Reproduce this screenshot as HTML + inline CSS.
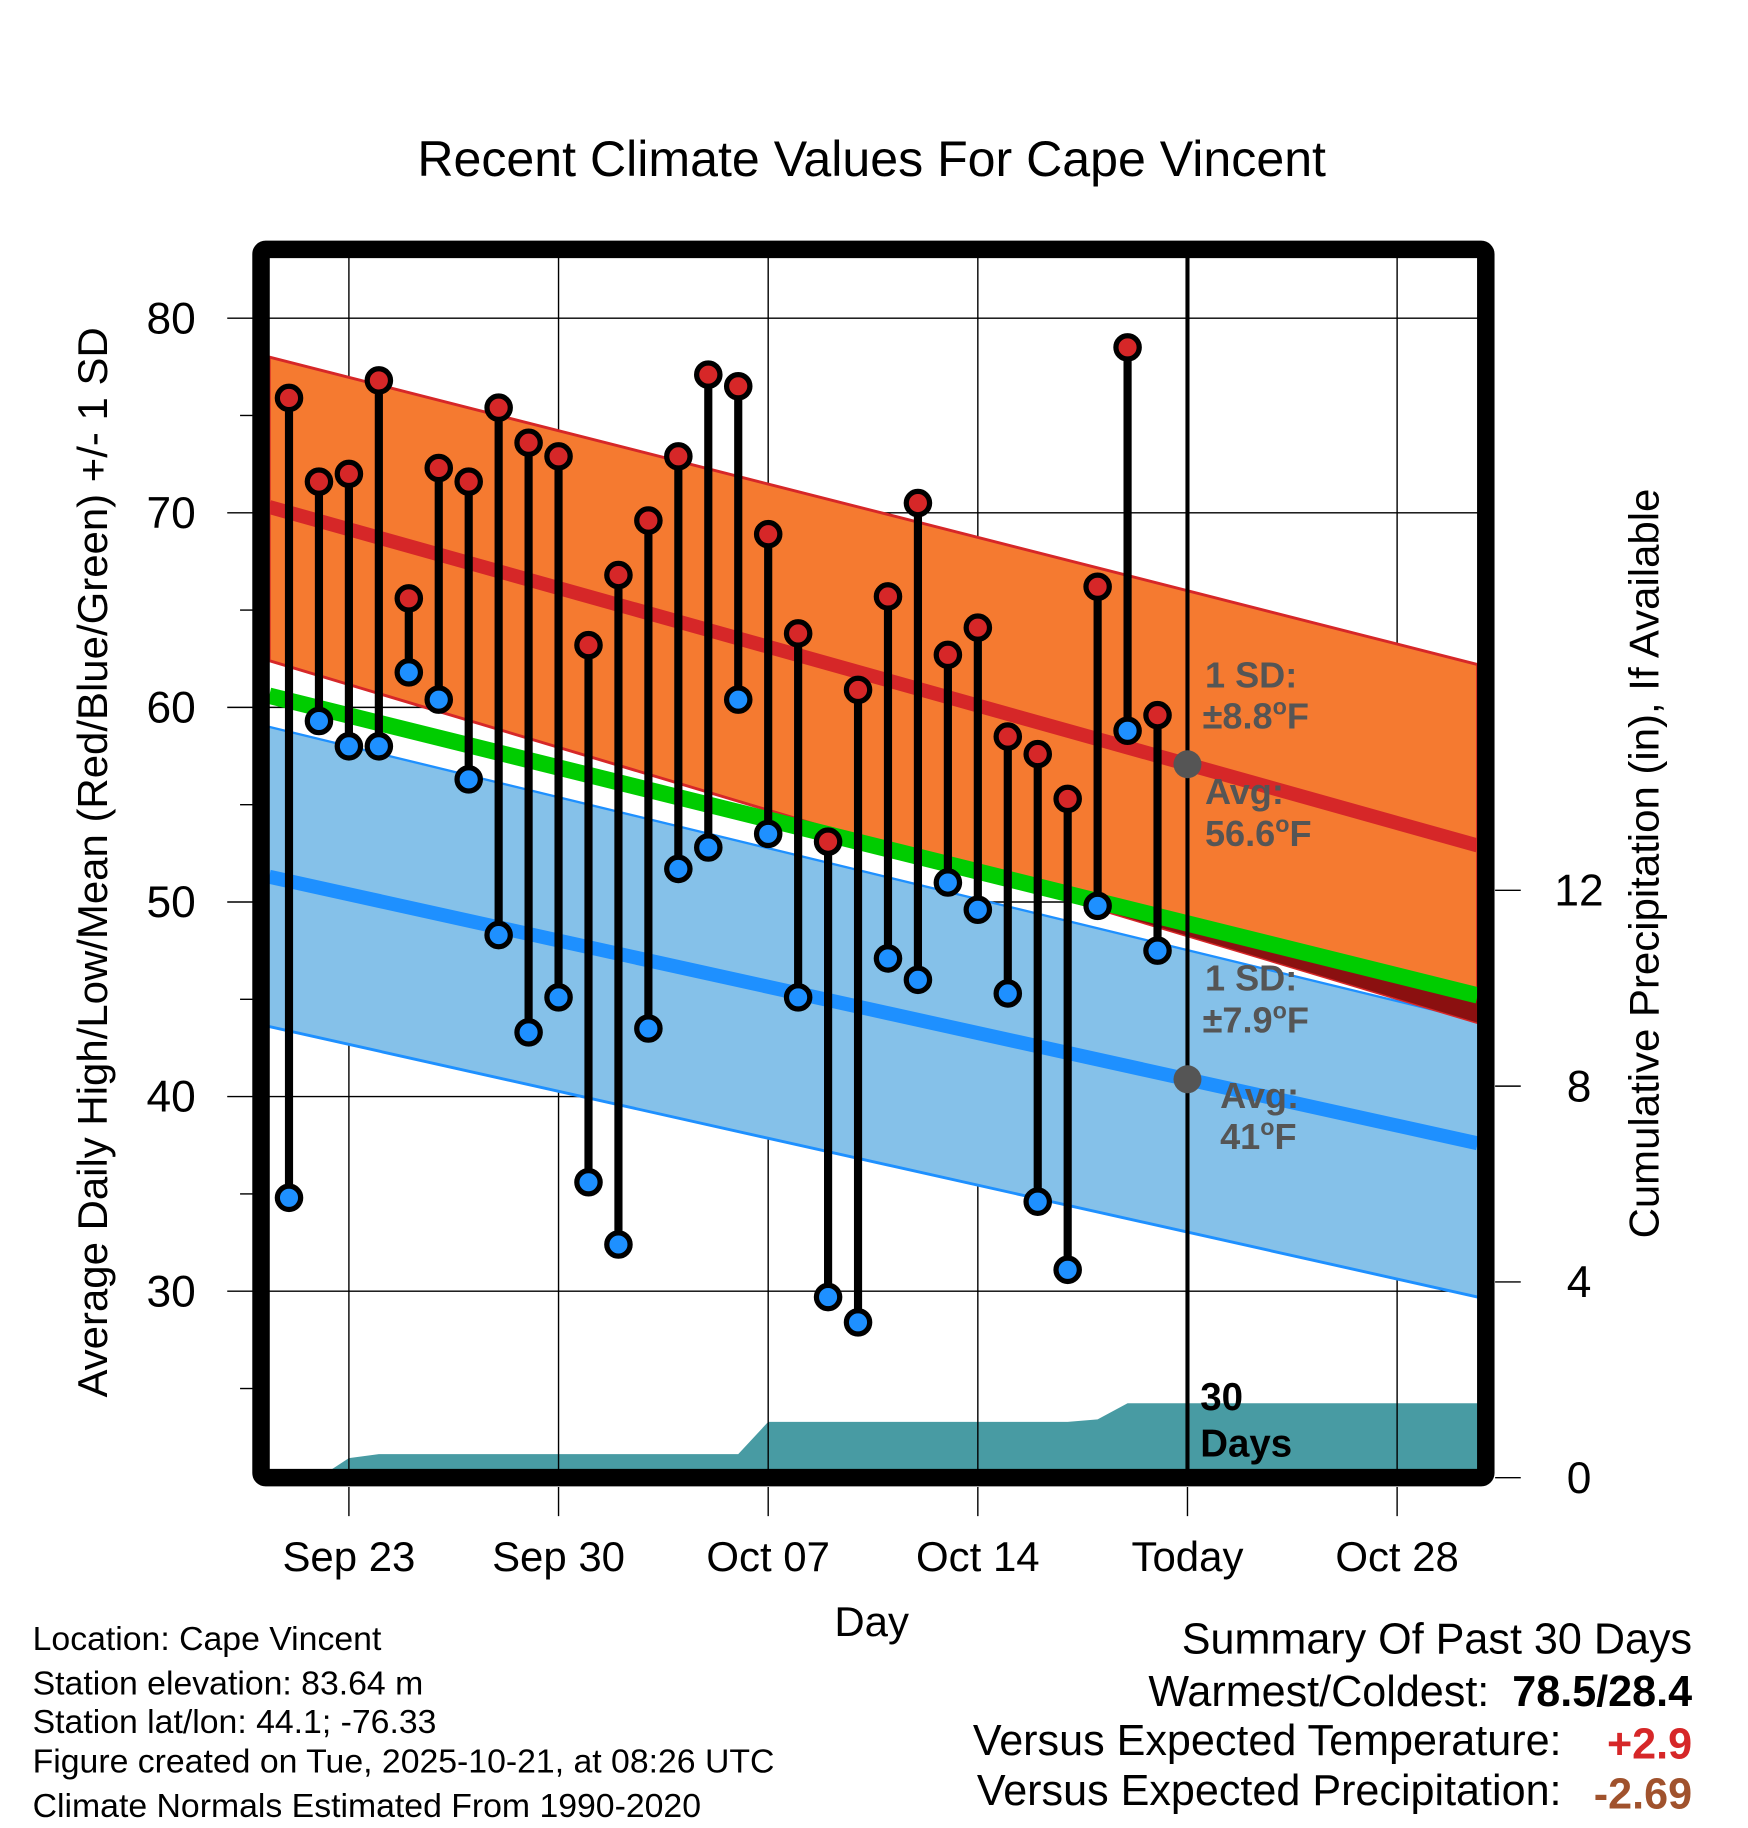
<!DOCTYPE html>
<html><head><meta charset="utf-8"><style>html,body{margin:0;padding:0;background:#fff}svg{display:block}text{font-family:"Liberation Sans",sans-serif}</style></head>
<body>
<svg id="chart" width="1748" height="1828" viewBox="0 0 1500 1568.6" xmlns="http://www.w3.org/2000/svg">
<text x="748" y="151" font-size="43" text-anchor="middle">Recent Climate Values For Cape Vincent</text>
<g id="plot"></g>
<text x="748" y="1404" font-size="36" text-anchor="middle">Day</text>
<text transform="translate(92,740) rotate(-90)" font-size="36" text-anchor="middle">Average Daily High/Low/Mean (Red/Blue/Green) +/- 1 SD</text>
<text transform="translate(1423,741) rotate(-90)" font-size="36" text-anchor="middle">Cumulative Precipitation (in), If Available</text>
<g font-size="29">
<text x="28" y="1416">Location: Cape Vincent</text>
<text x="28" y="1454">Station elevation: 83.64 m</text>
<text x="28" y="1487">Station lat/lon: 44.1; -76.33</text>
<text x="28" y="1521">Figure created on Tue, 2025-10-21, at 08:26 UTC</text>
<text x="28" y="1559">Climate Normals Estimated From 1990-2020</text>
</g>
<g font-size="37">
<text x="1452" y="1419" text-anchor="end">Summary Of Past 30 Days</text>
<text x="1278" y="1464" text-anchor="end">Warmest/Coldest:</text>
<text x="1452" y="1464" text-anchor="end" font-weight="bold">78.5/28.4</text>
<text x="1340" y="1506" text-anchor="end">Versus Expected Temperature:</text>
<text x="1452" y="1509" text-anchor="end" font-weight="bold" fill="#d62728">+2.9</text>
<text x="1340" y="1549" text-anchor="end">Versus Expected Precipitation:</text>
<text x="1452" y="1552" text-anchor="end" font-weight="bold" fill="#a0522d">-2.69</text>
</g>
</svg>
<script>
const highs=[75.9,71.6,72.0,76.8,65.6,72.3,71.6,75.4,73.6,72.9,63.2,66.8,69.6,72.9,77.1,76.5,68.9,63.8,53.1,60.9,65.7,70.5,62.7,64.1,58.5,57.6,55.3,66.2,78.5,59.6];
const lows=[34.8,59.3,58.0,58.0,61.8,60.4,56.3,48.3,43.3,45.1,35.6,32.4,43.5,51.7,52.8,60.4,53.5,45.1,29.7,28.4,47.1,46.0,51.0,49.6,45.3,34.6,31.1,49.8,58.8,47.5];
const precip=[0,0,0.4,0.48,0.48,0.48,0.48,0.48,0.48,0.48,0.48,0.48,0.48,0.48,0.48,0.48,1.14,1.14,1.14,1.14,1.14,1.14,1.14,1.14,1.14,1.14,1.14,1.19,1.52,1.52];
const highAvg=[70.3,52.9], highUp=[78.0,62.2], highLo=[62.4,43.8];
const meanAvg=[60.6,45.2];
const lowAvg=[51.3,37.6], lowUp=[59.0,43.9], lowLo=[43.6,29.7];
const xTickLabels=["Sep 23","Sep 30","Oct 07","Oct 14","Today","Oct 28"];
const xTickDays=[2,9,16,23,30,37];
const yTicks=[30,40,50,60,70,80];
const pTicks=[0,4,8,12];
const todayDay=30;

const NS="http://www.w3.org/2000/svg";
const g=document.getElementById('plot');
const X0=231,X1=1268,Y0=221,Y1=1261;
const x=d=>248+d*25.7;
const y=v=>273+(80-v)*16.7;
const py=p=>1268-p*42;
const dL=(X0-248)/25.7, dR=(X1-248)/25.7;
function el(t,a,p){const e=document.createElementNS(NS,t);for(const k in a)e.setAttribute(k,a[k]);(p||g).appendChild(e);return e;}
function lineAt(arr,d){return arr[0]+(arr[1]-arr[0])*(d-dL)/(dR-dL);}
function band(lo,hi){return `${X0},${y(lo[0])} ${X1},${y(lo[1])} ${X1},${y(hi[1])} ${X0},${y(hi[0])}`;}

let defs=el('defs',{});
let cp=el('clipPath',{id:'pc'},defs);el('rect',{x:X0,y:Y0,width:X1-X0,height:Y1-Y0},cp);
let cg=el('clipPath',{id:'belowGreen'},defs);
el('polygon',{points:`${X0},${y(meanAvg[0])} ${X1},${y(meanAvg[1])} ${X1},${Y1} ${X0},${Y1}`},cg);
const pg=el('g',{'clip-path':'url(#pc)'});

let pts=`${X0},${py(0)} `;
precip.forEach((p,i)=>{pts+=`${x(i)},${py(p)} `;});
pts+=`${X1},${py(precip[precip.length-1])} ${X1},${py(0)}`;
let a=el('polygon',{points:pts,fill:'#489ba3'},pg);



yTicks.forEach(v=>{let l=el('line',{x1:X0,x2:X1,y1:y(v),y2:y(v),stroke:'#000','stroke-width':1.2},pg);});
xTickDays.forEach(d=>{let l=el('line',{x1:x(d),x2:x(d),y1:Y0,y2:Y1,stroke:'#000','stroke-width':1.2},pg);});

let b1=el('polygon',{points:band(lowLo,lowUp),fill:'#85c1e9'},pg);

el('line',{x1:X0,y1:y(lowLo[0]),x2:X1,y2:y(lowLo[1]),stroke:'#1e90ff','stroke-width':2.5},pg);
el('line',{x1:X0,y1:y(lowUp[0]),x2:X1,y2:y(lowUp[1]),stroke:'#1e90ff','stroke-width':2},pg);
let b2=el('polygon',{points:band(highLo,highUp),fill:'#f57a30',stroke:'#d62728','stroke-width':2.5},pg);

el('polygon',{points:band(highLo,highUp),fill:'#8b1010','clip-path':'url(#belowGreen)'},pg);
let gl=el('line',{x1:X0,y1:y(meanAvg[0]),x2:X1,y2:y(meanAvg[1]),stroke:'#00cc00','stroke-width':14},pg);

let rl=el('line',{x1:X0,y1:y(highAvg[0]),x2:X1,y2:y(highAvg[1]),stroke:'#d62728','stroke-width':12},pg);

let bl=el('line',{x1:X0,y1:y(lowAvg[0]),x2:X1,y2:y(lowAvg[1]),stroke:'#1e90ff','stroke-width':12},pg);


let tl=el('line',{x1:x(todayDay),x2:x(todayDay),y1:Y0,y2:Y1,stroke:'#000','stroke-width':3.5},pg);


[[highAvg,'high-avg-marker'],[lowAvg,'low-avg-marker']].forEach(([arr,n])=>{
 let c=el('circle',{cx:x(todayDay),cy:y(lineAt(arr,todayDay)),r:12,fill:'#555'},pg);
 
});
function lab(t,xx,yy,n,deg){let e=el('text',{x:xx,y:yy,'font-size':31,'font-weight':'bold',fill:'#555'});
 if(deg){e.appendChild(document.createTextNode(t));let s=el('tspan',{dy:-12,'font-size':20},e);s.textContent='o';let f=el('tspan',{dy:12},e);f.textContent='F';}
 else e.textContent=t;
 }
lab('1 SD:',1034,590,'high-sd-label');lab('±8.8',1032,625,'high-sd-value',1);
lab('Avg:',1034,690,'high-avg-label');lab('56.6',1034,726,'high-avg-value',1);
lab('1 SD:',1034,850,'low-sd-label');lab('±7.9',1032,886,'low-sd-value',1);
lab('Avg:',1047,951,'low-avg-label');lab('41',1047,986,'low-avg-value',1);
let d1=el('text',{x:1030,y:1210,'font-size':33,'font-weight':'bold'});d1.textContent='30';

let d2=el('text',{x:1030,y:1250,'font-size':33,'font-weight':'bold'});d2.textContent='Days';


highs.forEach((h,i)=>{
 let s=el('line',{x1:x(i),x2:x(i),y1:y(h),y2:y(lows[i]),stroke:'#000','stroke-width':7});
 
});
highs.forEach((h,i)=>{
 let c=el('circle',{cx:x(i),cy:y(h),r:10,fill:'#d62728',stroke:'#000','stroke-width':4.5});
 
 let c2=el('circle',{cx:x(i),cy:y(lows[i]),r:10,fill:'#1e90ff',stroke:'#000','stroke-width':4.5});
 
});

let f=el('rect',{x:224,y:214,width:1051,height:1054,fill:'none',stroke:'#000','stroke-width':15,rx:4});


for(let v=25;v<=80;v+=5){
 let major=v%10===0;
 let t=el('line',{x1:major?195:206,x2:217,y1:y(v),y2:y(v),stroke:'#000','stroke-width':1.2});
 
}
yTicks.forEach(v=>{let t=el('text',{x:168,y:y(v)+13,'font-size':38,'text-anchor':'end'});t.textContent=v;});
pTicks.forEach(p=>{
 let t=el('line',{x1:1283,x2:1305,y1:py(p),y2:py(p),stroke:'#000','stroke-width':1.2});
 
 let l=el('text',{x:1355,y:py(p)+13,'font-size':38,'text-anchor':'middle'});l.textContent=p;
 
});
xTickDays.forEach((d,i)=>{
 let t=el('line',{x1:x(d),x2:x(d),y1:1276,y2:1301,stroke:'#000','stroke-width':1.2});
 
 let l=el('text',{x:x(d),y:1348,'font-size':36,'text-anchor':'middle'});l.textContent=xTickLabels[i];
 
});
</script>
</body></html>
